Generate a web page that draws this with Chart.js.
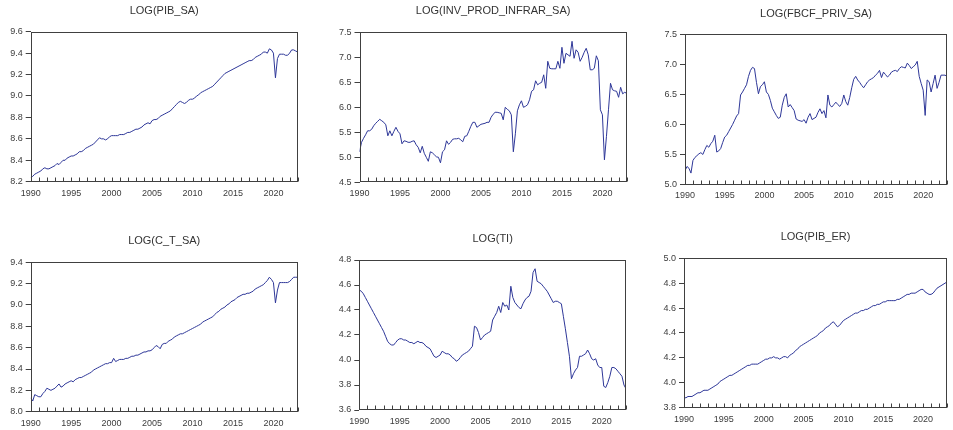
<!DOCTYPE html>
<html lang="en">
<head>
  <meta charset="UTF-8" />
  <title>Log series panels</title>
  <script src="https://cdn.jsdelivr.net/npm/chart.js"></script>
  <style>
    body { margin: 0; background: #fff; width: 953px; height: 430px; overflow: hidden; position: relative; }
    canvas { position: absolute; }
  </style>
</head>
<body>
  <canvas id="c1"></canvas>
  <canvas id="c2"></canvas>
  <canvas id="c3"></canvas>
  <canvas id="c4"></canvas>
  <canvas id="c5"></canvas>
  <canvas id="c6"></canvas>

  <script>
    // quarterly observations, 1990Q1 .. 2023Q1
    const START_YEAR = 1990;
    const xTickYears = [1990, 1995, 2000, 2005, 2010, 2015, 2020];

    const pibSa = [
      8.24, 8.25, 8.27, 8.28,  8.29, 8.30, 8.32, 8.33,  8.32, 8.32, 8.33, 8.34,  8.35, 8.37, 8.36, 8.38,
      8.40, 8.40, 8.42, 8.43,  8.44, 8.44, 8.45, 8.46,  8.48, 8.48, 8.49, 8.51,  8.52, 8.53, 8.54, 8.55,
      8.57, 8.59, 8.61, 8.60,  8.60, 8.59, 8.60, 8.62,  8.63, 8.63, 8.63, 8.63,  8.64, 8.64, 8.64, 8.65,
      8.66, 8.66, 8.67, 8.68,  8.69, 8.69, 8.70, 8.71,  8.73, 8.74, 8.75, 8.74,  8.77, 8.78, 8.78, 8.79,
      8.81, 8.82, 8.83, 8.84,  8.85, 8.86, 8.88, 8.90,  8.92, 8.94, 8.95, 8.94,  8.93, 8.94, 8.96, 8.97,
      8.97, 8.98, 9.00, 9.01,  9.03, 9.04, 9.05, 9.06,  9.07, 9.08, 9.09, 9.11,  9.13, 9.15, 9.17, 9.19,
      9.21, 9.22, 9.23, 9.24,  9.25, 9.26, 9.27, 9.28,  9.29, 9.30, 9.31, 9.32,  9.33, 9.33, 9.34, 9.36,
      9.37, 9.38, 9.39, 9.41,  9.41, 9.40, 9.44, 9.43,  9.40, 9.17, 9.35, 9.39,  9.39, 9.39, 9.38, 9.38,
      9.40, 9.43, 9.43, 9.42,  9.41
    ];
    const invProdInfrarSa = [
      5.11, 5.30, 5.38, 5.45,  5.53, 5.53, 5.56, 5.63,  5.68, 5.72, 5.76, 5.73,  5.70, 5.65, 5.43, 5.53,
      5.43, 5.52, 5.60, 5.52,  5.47, 5.27, 5.33, 5.32,  5.30, 5.30, 5.32, 5.33,  5.25, 5.20, 5.09, 5.22,
      5.08, 5.00, 4.92, 5.11,  5.09, 5.05, 5.01, 5.00,  4.89, 5.11, 5.15, 5.33,  5.26, 5.30, 5.36, 5.37,
      5.37, 5.38, 5.35, 5.31,  5.42, 5.43, 5.52, 5.62,  5.70, 5.70, 5.60, 5.63,  5.66, 5.67, 5.68, 5.70,
      5.70, 5.80, 5.86, 5.90,  5.90, 5.89, 5.88, 5.75,  6.00, 5.96, 5.93, 5.85,  5.11, 5.47, 5.93, 6.05,
      6.13, 6.00, 6.02, 6.05,  6.15, 6.32, 6.35, 6.53,  6.45, 6.48, 6.50, 6.65,  6.38, 6.92, 6.78, 6.77,
      6.77, 6.77, 6.92, 6.78,  7.20, 6.88, 7.08, 7.05,  7.02, 7.32, 6.98, 7.15,  7.10, 6.92, 7.00, 7.10,
      7.18, 7.05, 6.75, 6.75,  6.78, 7.03, 6.93, 5.95,  5.85, 4.95, 5.42, 5.95,  6.48, 6.35, 6.33, 6.32,
      6.20, 6.40, 6.27, 6.30,  6.28
    ];
    const fbcfPrivSa = [
      5.23, 5.30, 5.27, 5.19,  5.40, 5.45, 5.48, 5.51,  5.53, 5.50, 5.58, 5.65,  5.62, 5.68, 5.72, 5.82,
      5.54, 5.56, 5.60, 5.70,  5.79, 5.82, 5.88, 5.94,  6.00, 6.07, 6.14, 6.18,  6.49, 6.54, 6.60, 6.66,
      6.80, 6.90, 6.95, 6.93,  6.70, 6.51, 6.63, 6.66,  6.71, 6.54, 6.50, 6.40,  6.27, 6.21, 6.15, 6.10,
      6.12, 6.32, 6.45, 6.51,  6.29, 6.33, 6.28, 6.23,  6.09, 6.07, 6.06, 6.05,  6.08, 6.02, 6.12, 6.18,
      6.08, 6.10, 6.12, 6.20,  6.26, 6.18, 6.23, 6.11,  6.49, 6.32, 6.29, 6.33,  6.37, 6.33, 6.30, 6.35,
      6.49, 6.38, 6.32, 6.45,  6.61, 6.75, 6.80, 6.74,  6.70, 6.65, 6.61, 6.66,  6.71, 6.74, 6.76, 6.78,
      6.82, 6.85, 6.90, 6.78,  6.87, 6.83, 6.79, 6.82,  6.87, 6.89, 6.90, 6.88,  6.93, 6.96, 6.95, 6.94,
      7.02, 6.98, 6.93, 6.96,  6.99, 7.05, 6.80, 6.68,  6.57, 6.15, 6.74, 6.71,  6.54, 6.68, 6.82, 6.60,
      6.70, 6.82, 6.82, 6.82,  6.80
    ];
    const cTSa = [
      8.13, 8.10, 8.16, 8.15,  8.14, 8.14, 8.17, 8.19,  8.22, 8.21, 8.20, 8.21,  8.22, 8.24, 8.26, 8.23,
      8.24, 8.26, 8.27, 8.28,  8.29, 8.28, 8.30, 8.31,  8.32, 8.32, 8.33, 8.34,  8.35, 8.36, 8.37, 8.39,
      8.40, 8.41, 8.42, 8.43,  8.44, 8.45, 8.45, 8.46,  8.46, 8.50, 8.47, 8.48,  8.49, 8.49, 8.49, 8.50,
      8.50, 8.51, 8.52, 8.52,  8.53, 8.53, 8.54, 8.55,  8.56, 8.56, 8.57, 8.57,  8.58, 8.60, 8.62, 8.61,
      8.59, 8.63, 8.64, 8.64,  8.66, 8.67, 8.68, 8.70,  8.71, 8.72, 8.73, 8.73,  8.74, 8.75, 8.76, 8.77,
      8.78, 8.79, 8.80, 8.81,  8.82, 8.84, 8.85, 8.86,  8.87, 8.88, 8.89, 8.91,  8.93, 8.94, 8.96, 8.97,
      8.98, 9.00, 9.01, 9.03,  9.04, 9.05, 9.07, 9.08,  9.09, 9.10, 9.10, 9.11,  9.11, 9.12, 9.13, 9.15,
      9.16, 9.17, 9.18, 9.19,  9.21, 9.23, 9.26, 9.24,  9.21, 9.02, 9.14, 9.21,  9.21, 9.21, 9.21, 9.21,
      9.22, 9.24, 9.26, 9.26,  9.26
    ];
    const ti = [
      4.56, 4.55, 4.53, 4.50,  4.47, 4.44, 4.41, 4.38,  4.35, 4.32, 4.29, 4.26,  4.23, 4.19, 4.15, 4.13,
      4.12, 4.12, 4.14, 4.16,  4.17, 4.17, 4.16, 4.16,  4.15, 4.14, 4.14, 4.13,  4.14, 4.15, 4.14, 4.14,
      4.13, 4.11, 4.10, 4.09,  4.06, 4.03, 4.02, 4.03,  4.04, 4.07, 4.06, 4.05,  4.05, 4.04, 4.02, 4.01,
      3.99, 4.00, 4.02, 4.04,  4.05, 4.06, 4.07, 4.09,  4.11, 4.27, 4.26, 4.22,  4.16, 4.18, 4.20, 4.21,
      4.22, 4.23, 4.32, 4.35,  4.38, 4.43, 4.38, 4.46,  4.43, 4.44, 4.40, 4.59,  4.50, 4.46, 4.44, 4.42,
      4.41, 4.45, 4.48, 4.50,  4.51, 4.55, 4.70, 4.73,  4.63, 4.62, 4.61, 4.59,  4.57, 4.55, 4.52, 4.49,
      4.46, 4.47, 4.47, 4.46,  4.45, 4.35, 4.25, 4.14,  4.03, 3.85, 3.89, 3.92,  3.94, 4.03, 4.03, 4.04,
      4.05, 4.08, 4.05, 4.01,  4.00, 4.01, 3.96, 3.94,  3.94, 3.79, 3.78, 3.82,  3.87, 3.94, 3.94, 3.93,
      3.91, 3.89, 3.87, 3.80,  3.77
    ];
    const pibEr = [
      3.88, 3.88, 3.89, 3.89,  3.89, 3.90, 3.91, 3.92,  3.92, 3.93, 3.94, 3.94,  3.94, 3.95, 3.96, 3.97,
      3.98, 3.99, 4.01, 4.02,  4.03, 4.04, 4.05, 4.06,  4.06, 4.07, 4.08, 4.09,  4.10, 4.11, 4.12, 4.13,
      4.14, 4.14, 4.15, 4.15,  4.15, 4.15, 4.16, 4.17,  4.18, 4.19, 4.19, 4.20,  4.20, 4.21, 4.20, 4.20,
      4.19, 4.20, 4.21, 4.21,  4.20, 4.22, 4.23, 4.24,  4.26, 4.27, 4.29, 4.30,  4.31, 4.32, 4.33, 4.34,
      4.35, 4.36, 4.37, 4.38,  4.40, 4.41, 4.42, 4.44,  4.45, 4.46, 4.48, 4.49,  4.47, 4.45, 4.46, 4.48,
      4.50, 4.51, 4.52, 4.53,  4.54, 4.55, 4.56, 4.56,  4.57, 4.58, 4.58, 4.59,  4.59, 4.60, 4.61, 4.62,
      4.62, 4.63, 4.63, 4.64,  4.65, 4.65, 4.66, 4.66,  4.66, 4.66, 4.66, 4.67,  4.67, 4.68, 4.69, 4.70,
      4.71, 4.71, 4.72, 4.72,  4.72, 4.73, 4.74, 4.75,  4.75, 4.73, 4.72, 4.71,  4.71, 4.72, 4.74, 4.76,
      4.77, 4.78, 4.79, 4.80,  4.81
    ];

    // panel layout: cell = canvas rect, box = plot area [left, top, right, bottom], ty = title centre
    const panels = [
      { id: 'c1', title: 'LOG(PIB_SA)', values: pibSa, min: 8.2, max: 9.6, step: 0.2,
        cell: [0, 0, 320, 215], box: [30.7, 31.7, 297.7, 181.7], ty: 10.8 },
      { id: 'c2', title: 'LOG(INV_PROD_INFRAR_SA)', values: invProdInfrarSa, min: 4.5, max: 7.5, step: 0.5,
        cell: [320, 0, 325, 215], box: [359.5, 32.3, 626.7, 182.3], ty: 10.8 },
      { id: 'c3', title: 'LOG(FBCF_PRIV_SA)', values: fbcfPrivSa, min: 5.0, max: 7.5, step: 0.5,
        cell: [645, 0, 308, 215], box: [685, 34.3, 952.3, 184.5], ty: 13.8 },
      { id: 'c4', title: 'LOG(C_T_SA)', values: cTSa, min: 8.0, max: 9.4, step: 0.2,
        cell: [0, 215, 320, 215], box: [30.7, 262.3, 297.7, 411.7], ty: 241.2 },
      { id: 'c5', title: 'LOG(TI)', values: ti, min: 3.6, max: 4.8, step: 0.2,
        cell: [320, 215, 325, 215], box: [359.3, 260, 626, 410], ty: 239 },
      { id: 'c6', title: 'LOG(PIB_ER)', values: pibEr, min: 3.8, max: 5.0, step: 0.2,
        cell: [645, 215, 308, 215], box: [684, 258.3, 950.7, 407.7], ty: 236.7 }
    ];

    const FONT = "'Liberation Sans', Arial, sans-serif";
    const TEXT = '#3c3c3c';
    const AXIS = '#404040';
    const LINE = '#2e3798';
    const TITLE_SIZE = 11, TITLE_LH = TITLE_SIZE * 1.2;

    // frame round the plot area + yearly x ticks pointing inwards (EViews style)
    const framePlugin = {
      id: 'frame',
      afterDatasetsDraw(chart) {
        const a = chart.chartArea, ctx = chart.ctx, xs = chart.scales.x;
        const l = Math.round(a.left) + 0.5, t = Math.round(a.top) + 0.5;
        const r = Math.round(a.right) - 0.5, b = Math.round(a.bottom) - 0.5;
        ctx.save();
        ctx.strokeStyle = AXIS;
        ctx.lineWidth = 1;
        ctx.strokeRect(l, t, r - l, b - t);
        ctx.beginPath();
        xs.ticks.forEach(tk => {
          const px = Math.round(xs.getPixelForValue(tk.value)) + 0.5;
          ctx.moveTo(px, b);
          ctx.lineTo(px, b - 4);
        });
        ctx.stroke();
        ctx.restore();
      }
    };

    panels.forEach(p => {
      const [cx, cy, cw, ch] = p.cell;
      const [L, T, R, B] = p.box;
      const el = document.getElementById(p.id);
      el.style.left = cx + 'px';
      el.style.top = cy + 'px';
      el.style.width = cw + 'px';
      el.style.height = ch + 'px';
      el.width = cw; el.height = ch;

      const titleTop = p.ty - cy - TITLE_LH / 2;
      const titleBottom = (T - cy) - TITLE_LH - titleTop;

      new Chart(el, {
        type: 'line',
        data: {
          datasets: [{
            data: p.values.map((v, i) => ({ x: START_YEAR + i / 4, y: v })),
            borderColor: LINE, borderWidth: 1, pointRadius: 0, tension: 0, fill: false
          }]
        },
        options: {
          responsive: false, animation: false, devicePixelRatio: 1,
          layout: { padding: { left: 0, top: 0, right: cx + cw - R, bottom: 0 } },
          plugins: {
            legend: { display: false },
            tooltip: { enabled: false },
            title: {
              display: true, text: p.title, fullSize: false, color: '#333',
              font: { family: FONT, size: TITLE_SIZE, weight: 'normal' },
              padding: { top: titleTop, bottom: titleBottom }
            }
          },
          scales: {
            x: {
              type: 'linear', min: 1990, max: 2023,
              border: { display: false },
              grid: { display: false, drawTicks: false },
              ticks: {
                stepSize: 1, autoSkip: false, maxRotation: 0, padding: 6, color: TEXT,
                font: { family: FONT, size: 9 },
                callback: v => xTickYears.includes(v) ? String(v) : ''
              },
              afterFit: s => { s.height = cy + ch - B; }
            },
            y: {
              min: p.min, max: p.max,
              border: { display: false },
              grid: { display: true, drawOnChartArea: false, drawTicks: true, tickLength: 5, color: AXIS },
              ticks: {
                stepSize: p.step, padding: 3, color: TEXT,
                font: { family: FONT, size: 9 },
                callback: v => Number(v).toFixed(1)
              },
              afterFit: s => { s.width = L - cx; }
            }
          }
        },
        plugins: [framePlugin]
      });
    });
  </script>
</body>
</html>
